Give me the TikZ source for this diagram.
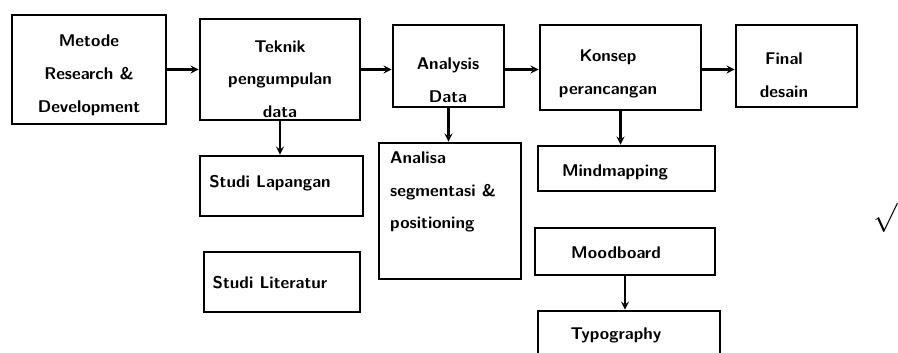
\documentclass[tikz,border=0pt]{standalone}
\usepackage{amsmath}
\usepackage{amssymb}
\usepackage{xcolor}
\usepackage{tikz}

\begin{document}
\begin{tikzpicture}[x=0.03cm,y=-0.03cm,
	box/.style={draw,line width=2.4pt,inner sep=0pt},
	txt/.style={align=center,inner sep=0pt,
		font=\sffamily\bfseries\fontsize{14.5}{28}\selectfont},
	arr/.style={line width=2pt,-stealth}]
	\useasboundingbox (0,0) rectangle (898,352);
	% top row
	\node[box,minimum width=4.62cm,minimum height=3.27cm] (metode) at (89,69.5) {};
	\node[box,minimum width=4.8cm,minimum height=3.03cm] (teknik) at (280,69.5) {};
	\node[box,minimum width=3.33cm,minimum height=2.46cm] (analisis) at (448.5,66) {};
	\node[box,minimum width=4.83cm,minimum height=2.55cm] (konsep) at (620.5,67.5) {};
	\node[box,minimum width=3.63cm,minimum height=2.46cm] (final) at (796.5,66) {};
	\node[txt] (metode-t) at (89,75) {Metode\\Research \&\\Development};
	\node[txt] (teknik-t) at (280,79) {Teknik\\pengumpulan\\data};
	\node[txt] (analisis-t) at (448,80) {Analysis\\Data};
	\node[txt] (konsep-t) at (608,74) {Konsep\\perancangan};
	\node[txt] (final-t) at (784,75) {Final\\desain};
	% lower boxes
	\node[box,minimum width=4.89cm,minimum height=1.8cm] (lapangan) at (281.5,186) {};
	\node[box,minimum width=4.68cm,minimum height=1.8cm] (literatur) at (282,282) {};
	\node[box,minimum width=4.26cm,minimum height=4.08cm] (segmen) at (450,211) {};
	\node[box,minimum width=5.31cm,minimum height=1.35cm] (mind) at (626.5,168.5) {};
	\node[box,minimum width=5.4cm,minimum height=1.41cm] (mood) at (625,251.5) {};
	\node[box,minimum width=5.46cm,minimum height=1.62cm] (typo) at (629,338) {};
	\node[txt] (lapangan-t) at (270,183) {Studi Lapangan};
	\node[txt] (literatur-t) at (270,283) {Studi Literatur};
	\node[txt,align=left,anchor=west] (segmen-t) at (390,192) {Analisa\\segmentasi \&\\positioning};
	\node[txt] (mind-t) at (615,172) {Mindmapping};
	\node[txt] (mood-t) at (616,253) {Moodboard};
	\node[txt] (typo-t) at (616,335) {Typography};
	\node[font=\fontsize{24}{24}\selectfont,inner sep=0pt] (tick) at (886,218) {$\surd$};
	\path[arr]
	(metode) edge (teknik.west|-metode)
	(teknik) edge (analisis.west|-teknik)
	(analisis.east|-teknik) edge (konsep.west|-teknik)
	(konsep.east|-teknik) edge (final.west|-teknik)
	(teknik.south) edge (teknik.south|-lapangan.north)
	(analisis.south) edge (analisis.south|-segmen.north)
	(konsep.south) edge (konsep.south|-mind.north)
	(mood.south) edge (mood.south|-typo.north);
\end{tikzpicture}
\end{document}
